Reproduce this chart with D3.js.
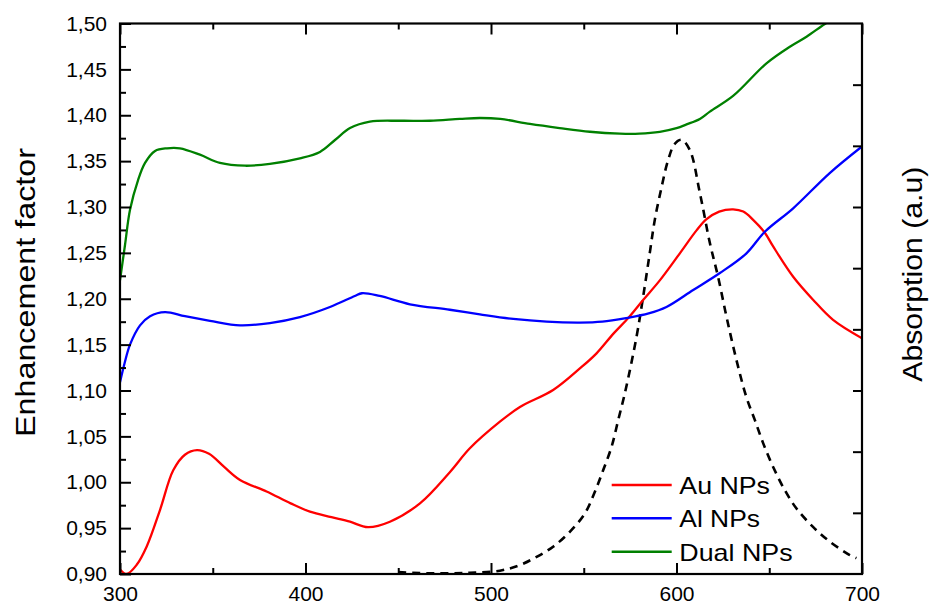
<!DOCTYPE html>
<html>
<head>
<meta charset="utf-8">
<script src="https://cdn.jsdelivr.net/npm/d3@7"></script>
<style>
  html, body { margin: 0; padding: 0; background: #fff; }
  svg { display: block; font-family: "Liberation Sans", Arial, sans-serif; }
</style>
</head>
<body>
<svg id="chart" width="929" height="606"></svg>
<script>
// Wavelength (nm) vs. enhancement factor for each nanoparticle configuration
const auNPs = [
  [300,0.905],[303.6,0.900],[309,0.910],[314.4,0.930],[321.6,0.970],[328.7,1.013],
  [335,1.030],[341.5,1.035],[348,1.031],[356,1.017],[364.7,1.0025],[379,0.990],
  [392,0.977],[402.4,0.968],[414,0.962],[424,0.957],[433.7,0.951],[445.5,0.957],
  [461.7,0.977],[477.8,1.011],[488.6,1.037],[504.8,1.066],[515.6,1.082],[533.5,1.1005],
  [547.9,1.124],[556.9,1.1405],[566,1.162],[574,1.179],[582,1.1986],[591,1.220],
  [601.8,1.2495],[610.8,1.2745],[616.2,1.2867],[623,1.295],[630.5,1.2975],[636,1.295],
  [641.3,1.286],[647.6,1.272],[652.1,1.257],[662.9,1.224],[673.6,1.199],[684.4,1.177],
  [700,1.157]
];
const alNPs = [
  [300,1.109],[302.5,1.130],[305.4,1.150],[310.8,1.171],[316.2,1.181],[324.3,1.1855],
  [335,1.181],[348.5,1.176],[364.7,1.171],[380.8,1.1735],[397,1.180],[413.2,1.191],
  [426.6,1.203],[430.4,1.206],[440,1.203],[456.3,1.194],[477.8,1.188],[494,1.183],
  [512,1.178],[530,1.175],[547.9,1.174],[560,1.175],[573,1.179],[585,1.184],
  [594.6,1.191],[609,1.2095],[623.4,1.228],[637.7,1.2495],[647.6,1.273],[662.9,1.2986],
  [682.6,1.337],[700,1.366]
];
const dualNPs = [
  [300,1.220],[302.7,1.2586],[305.4,1.297],[309.7,1.329],[313.5,1.348],[318.9,1.361],
  [325.3,1.364],[332.3,1.364],[343.1,1.357],[353.9,1.348],[367.4,1.345],[380.8,1.347],
  [397,1.353],[407.8,1.360],[415.9,1.373],[424,1.386],[434.7,1.393],[450.9,1.394],
  [467.1,1.394],[483.2,1.396],[494,1.397],[505,1.396],[521,1.3905],[537,1.386],
  [553.3,1.382],[569.5,1.380],[580,1.380],[591,1.382],[600,1.386],[605.4,1.390],
  [612.6,1.396],[618,1.404],[630.5,1.421],[648.5,1.4566],[661.1,1.4747],[670.1,1.4856],
  [680,1.4995],[690,1.512]
];
// Absorption spectrum (arbitrary units, right axis)
const absorption = [
  [450,0.003],[470,0.001],[488.6,0.002],[504.8,0.0054],[515.6,0.0147],[524.6,0.028],
  [533.5,0.0446],[542.5,0.069],[550.6,0.099],[556,0.1345],[560.5,0.170],[565,0.208],
  [568.6,0.252],[572.2,0.296],[578.4,0.387],[582,0.453],[585.6,0.525],[588.3,0.579],
  [592,0.633],[595.5,0.677],[599,0.703],[602.7,0.710],[607.2,0.693],[612.6,0.623],
  [618,0.541],[622.4,0.486],[627,0.420],[632.3,0.350],[637.7,0.289],[642.2,0.252],
  [646.7,0.214],[652.1,0.175],[658.4,0.137],[664.7,0.107],[673.6,0.077],[682.6,0.053],
  [693.4,0.031],[697,0.026]
];

const xMajorTicks = [300, 400, 500, 600, 700];
const xMinorTicks = [350, 450, 550, 650];
const yMajorTicks = [0.90,0.95,1.00,1.05,1.10,1.15,1.20,1.25,1.30,1.35,1.40,1.45,1.50];
const yMinorTicks = [0.925,0.975,1.025,1.075,1.125,1.175,1.225,1.275,1.325,1.375,1.425,1.475];
const rightTicks = [0.1,0.2,0.3,0.4,0.5,0.6,0.7,0.8];

const seriesNames = ["Au NPs", "Al NPs", "Dual NPs"];
const seriesColors = ["#ff0000", "#0000ff", "#008000"];

const svg = d3.select("#chart");
const m = { left: 120, right: 862, top: 23.5, bottom: 574 };

const x = d3.scaleLinear().domain([300, 700]).range([m.left, m.right]);
const y = d3.scaleLinear().domain([0.90, 1.50]).range([m.bottom, m.top]);
const yAbs = d3.scaleLinear().domain([0, 0.9]).range([m.bottom, m.top]);

const locale = d3.formatLocale({ decimal: ",", thousands: ".", grouping: [3], currency: ["", ""] });
const fmt = locale.format(".2f");

svg.append("clipPath").attr("id", "plotClip")
  .append("rect")
  .attr("x", m.left).attr("y", m.top)
  .attr("width", m.right - m.left).attr("height", m.bottom - m.top);

const plot = svg.append("g").attr("clip-path", "url(#plotClip)");

const smooth = d3.curveCatmullRom.alpha(0.5);
const line = d3.line().x(d => x(d[0])).y(d => y(d[1])).curve(smooth);
const lineAbs = d3.line().x(d => x(d[0])).y(d => yAbs(d[1])).curve(smooth);

plot.append("path").datum(absorption)
  .attr("d", lineAbs).attr("fill", "none")
  .attr("stroke", "#000").attr("stroke-width", 2.6)
  .attr("stroke-dasharray", "8,6");

[auNPs, alNPs, dualNPs].forEach((s, i) => {
  plot.append("path").datum(s)
    .attr("d", line).attr("fill", "none")
    .attr("stroke", seriesColors[i]).attr("stroke-width", 2.3)
    .attr("stroke-linejoin", "round");
});

// Axes: ticks point inward on all four sides
function styleAxis(g) {
  g.select(".domain").remove();
  g.selectAll(".tick line").attr("stroke", "#000").attr("stroke-width", 2);
}

svg.append("g").attr("transform", `translate(0,${m.bottom})`)
  .call(d3.axisBottom(x).tickValues(xMajorTicks).tickSize(-11).tickPadding(12).tickFormat(d3.format("d")))
  .call(styleAxis)
  .call(g => g.selectAll("text").attr("font-size", 21).attr("fill", "#000")
    .attr("font-family", '"Liberation Sans", Arial, sans-serif').attr("dy", "0.71em"));
svg.append("g").attr("transform", `translate(0,${m.bottom})`)
  .call(d3.axisBottom(x).tickValues(xMinorTicks).tickSize(-6).tickFormat(""))
  .call(styleAxis);

svg.append("g").attr("transform", `translate(0,${m.top})`)
  .call(d3.axisTop(x).tickValues(xMajorTicks).tickSize(-11).tickFormat(""))
  .call(styleAxis);
svg.append("g").attr("transform", `translate(0,${m.top})`)
  .call(d3.axisTop(x).tickValues(xMinorTicks).tickSize(-6).tickFormat(""))
  .call(styleAxis);

svg.append("g").attr("transform", `translate(${m.left},0)`)
  .call(d3.axisLeft(y).tickValues(yMajorTicks).tickSize(-11).tickPadding(13).tickFormat(fmt))
  .call(styleAxis)
  .call(g => g.selectAll("text").attr("font-size", 21).attr("fill", "#000")
    .attr("font-family", '"Liberation Sans", Arial, sans-serif'));
svg.append("g").attr("transform", `translate(${m.left},0)`)
  .call(d3.axisLeft(y).tickValues(yMinorTicks).tickSize(-6).tickFormat(""))
  .call(styleAxis);

svg.append("g").attr("transform", `translate(${m.right},0)`)
  .call(d3.axisRight(yAbs).tickValues(rightTicks).tickSize(-9).tickFormat(""))
  .call(styleAxis);

// Frame
svg.append("rect")
  .attr("x", m.left).attr("y", m.top)
  .attr("width", m.right - m.left).attr("height", m.bottom - m.top)
  .attr("fill", "none").attr("stroke", "#000").attr("stroke-width", 2.2);

// Axis titles
svg.append("text")
  .attr("transform", `translate(35,${(148 + 437) / 2}) rotate(-90)`)
  .attr("text-anchor", "middle")
  .attr("font-size", 28)
  .attr("textLength", 289).attr("lengthAdjust", "spacingAndGlyphs")
  .attr("fill", "#000")
  .text("Enhancement factor");

svg.append("text")
  .attr("transform", `translate(921.5,${(166.7 + 381.7) / 2}) rotate(-90)`)
  .attr("text-anchor", "middle")
  .attr("font-size", 27)
  .attr("textLength", 215).attr("lengthAdjust", "spacingAndGlyphs")
  .attr("fill", "#000")
  .text("Absorption (a.u)");

// Legend
const legendRows = [485, 518.3, 551.7];
const legendWidths = [90.7, 80.7, 113.3];
const legend = svg.append("g");
seriesNames.forEach((name, i) => {
  legend.append("line")
    .attr("x1", 611.7).attr("x2", 671.7)
    .attr("y1", legendRows[i]).attr("y2", legendRows[i])
    .attr("stroke", seriesColors[i]).attr("stroke-width", 2.5);
  legend.append("text")
    .attr("x", 679.3).attr("y", legendRows[i] + 9)
    .attr("font-size", 24)
    .attr("textLength", legendWidths[i]).attr("lengthAdjust", "spacingAndGlyphs")
    .attr("fill", "#000")
    .text(name);
});
</script>
</body>
</html>
